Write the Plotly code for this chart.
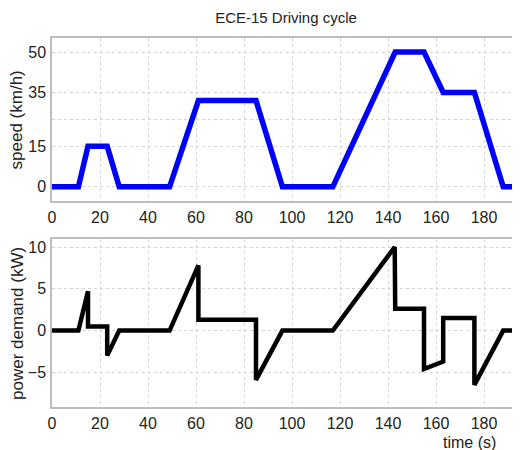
import plotly.graph_objects as go
from plotly.subplots import make_subplots

# ECE-15 speed profile
time_speed = [0, 11, 15, 23, 28, 49, 61, 85, 96, 117, 143, 155, 163, 176, 188, 195]
speed_kmh = [0, 0, 15, 15, 0, 0, 32, 32, 0, 0, 50, 50, 35, 35, 0, 0]

# Power demand profile
time_power = [0, 11, 15, 15, 23, 23, 28, 49, 61, 61, 85, 85, 96, 117, 142.8, 143,
              155, 155, 163, 163, 176, 176, 188, 195]
power_kw = [0, 0, 4.7, 0.5, 0.5, -3.0, 0, 0, 7.8, 1.3, 1.3, -5.9, 0, 0, 10.0, 2.6,
            2.6, -4.6, -3.7, 1.5, 1.5, -6.5, 0, 0]

x_ticks = [0, 20, 40, 60, 80, 100, 120, 140, 160, 180]
speed_ticks = [0, 15, 25, 35, 50]
speed_ticktext = ["0", "15", "", "35", "50"]
power_ticks = [-5, 0, 5, 10]

FONT = "Liberation Sans, Arial, sans-serif"

fig = make_subplots(rows=2, cols=1, vertical_spacing=0.0)
fig.add_trace(go.Scatter(x=time_speed, y=speed_kmh, mode="lines",
                         line=dict(color="#0000ff", width=5.5), showlegend=False),
              row=1, col=1)
fig.add_trace(go.Scatter(x=time_power, y=power_kw, mode="lines",
                         line=dict(color="#000000", width=4.5), showlegend=False),
              row=2, col=1)

axis_common = dict(showgrid=True, gridcolor="#d4d4d4", griddash="dot", gridwidth=1,
                   zeroline=False, showline=True, linecolor="#bdbdbd", linewidth=1.5,
                   ticks="", tickfont=dict(family=FONT, size=16, color="#222"))

fig.update_xaxes(range=[0, 195], tickvals=x_ticks, mirror=True, ticklabelstandoff=1,
                 **axis_common)
fig.update_yaxes(mirror=False, ticklabelstandoff=1, **axis_common)

fig.update_layout(
    width=512, height=442,
    margin=dict(l=44, r=0, t=30, b=43),
    plot_bgcolor="white", paper_bgcolor="white",
    xaxis=dict(domain=[0, 1]),
    yaxis=dict(domain=[0.558, 1.0], range=[-5.3, 55.2], tickvals=speed_ticks,
               ticktext=speed_ticktext),
    xaxis2=dict(domain=[0, 1]),
    yaxis2=dict(domain=[0.0, 0.455], range=[-9.15, 10.95], tickvals=power_ticks),
    title=dict(text="ECE-15 Driving cycle", x=0.5, xref="paper", y=1 - 10 / 442,
               yanchor="middle", font=dict(family=FONT, size=15, color="#222")),
    font=dict(family=FONT, color="#222"),
)

fig.add_annotation(text="speed (km/h)", xref="paper", yref="y domain", x=-0.075, y=0.5,
                   textangle=-90, showarrow=False, xanchor="center", yanchor="middle",
                   font=dict(family=FONT, size=17, color="#222"))
fig.add_annotation(text="power demand (kW)", xref="paper", yref="y2 domain", x=-0.075, y=0.5,
                   textangle=-90, showarrow=False, xanchor="center", yanchor="middle",
                   font=dict(family=FONT, size=17, color="#222"))
fig.add_annotation(text="time (s)", xref="paper", yref="paper", x=0.893, y=-0.095,
                   showarrow=False, xanchor="center", yanchor="middle",
                   font=dict(family=FONT, size=16, color="#222"))

fig.write_html("out.html")
